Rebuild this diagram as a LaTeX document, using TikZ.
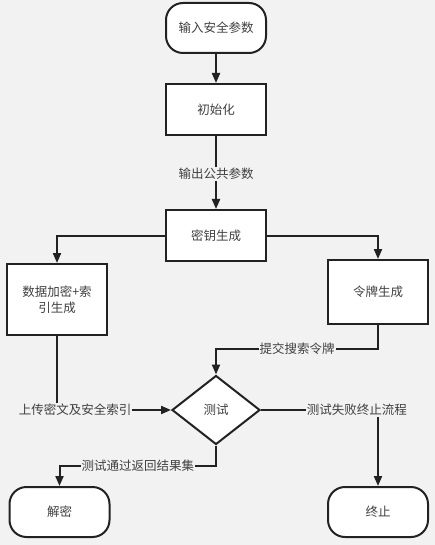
\documentclass[tikz,border=0pt]{standalone}
\usepackage{fontspec}
\setmainfont{Noto Sans CJK SC}
\usetikzlibrary{arrows.meta,shapes.geometric}
\definecolor{bg}{HTML}{F2F2F2}
\definecolor{ln}{HTML}{222222}
\definecolor{tx}{HTML}{404040}
\tikzset{
  base/.style={draw=ln,line width=2pt,fill=white,text=tx,font=\fontsize{12.5}{15.5}\selectfont,align=center,inner sep=0pt},
  procbox/.style={base,rectangle,minimum width=100pt,minimum height=51pt},
  termbox/.style={base,rectangle,rounded corners=17pt,minimum width=100pt,minimum height=50pt},
  decbox/.style={base,diamond,minimum width=88pt,minimum height=69pt,aspect=1.275},
  conn/.style={draw=ln,line width=2pt,-{Triangle[length=10pt,width=8pt]}},
  lbl/.style={fill=bg,text=tx,font=\fontsize{12.5}{15}\selectfont,inner sep=1pt}
}
\begin{document}
\begin{tikzpicture}[x=1pt,y=-1pt]
\fill[bg] (0,0) rectangle (435,545);
\useasboundingbox (0,0) rectangle (435,545);
\node[termbox] (start) at (216,28) {输入安全参数};
\node[procbox] (init) at (216,109.5) {初始化};
\node[procbox] (key) at (216,235.5) {密钥生成};
\node[procbox,minimum height=71pt] (enc) at (57,299.5) {数据加密+索\\引生成};
\node[procbox,minimum height=64pt] (tok) at (378,292) {令牌生成};
\node[decbox] (test) at (216,410) {测试};
\node[termbox] (dec) at (59.5,512) {解密};
\node[termbox] (end) at (378,512) {终止};
\coordinate (c1) at (216,349);
\coordinate (c2) at (216,466);
\draw[conn] (start) -- (init);
\draw[conn] (init) -- node[lbl,pos=0.52] {输出公共参数} (key);
\draw[conn] (key.west) -| (enc.north);
\draw[conn] (key.east) -| (tok.north);
\draw[conn] (tok.south) |- node[lbl,pos=0.75] {提交搜索令牌} (c1) -- (test.north);
\draw[conn] (enc.south) |- node[lbl,pos=0.58] {上传密文及安全索引} (test.west);
\draw[conn] (test.east) -| node[lbl,pos=0.41] {测试失败终止流程} (end.north);
\draw[conn] (test.south) -- (c2) -| node[lbl,pos=0.25] {测试通过返回结果集} (dec.north);
\end{tikzpicture}
\end{document}
